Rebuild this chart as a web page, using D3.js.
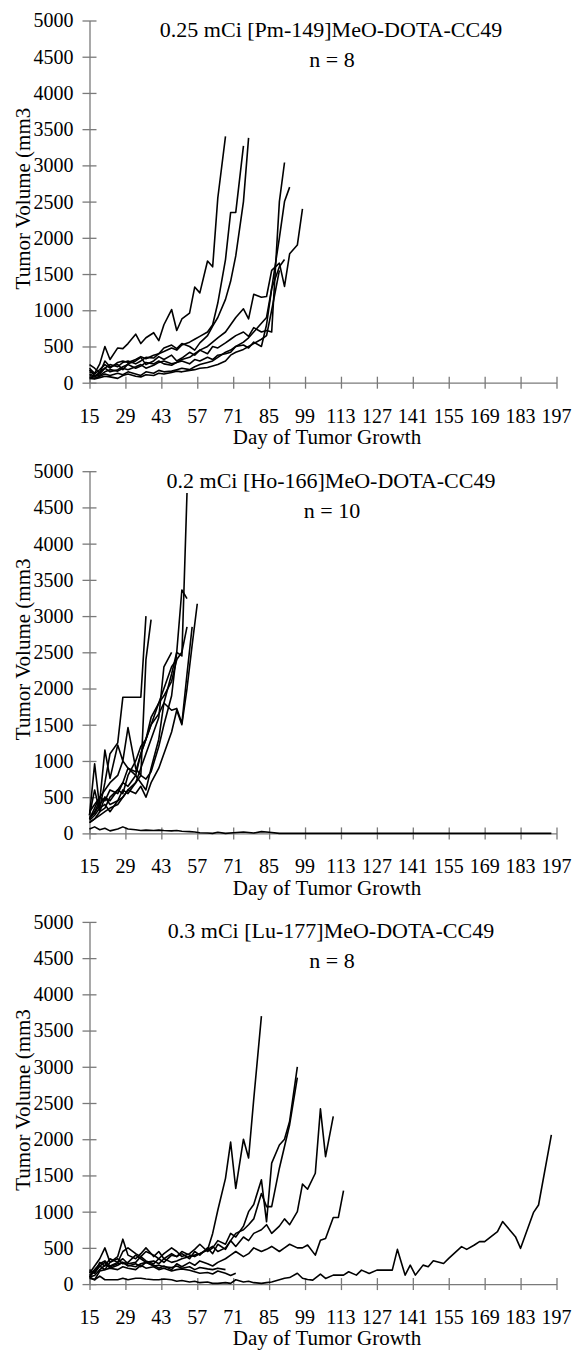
<!DOCTYPE html>
<html>
<head>
<meta charset="utf-8">
<script src="https://cdn.jsdelivr.net/npm/d3@7"></script>
<style>
  body { margin: 0; background: #fff; }
  svg { display: block; }
  text { font-family: "Liberation Serif", "Times New Roman", serif; fill: #000; }
</style>
</head>
<body>
<div id="chart"></div>
<script>
// Axis ticks
const xTicks = [15, 29, 43, 57, 71, 85, 99, 113, 127, 141, 155, 169, 183, 197];
const yTicks = [0, 500, 1000, 1500, 2000, 2500, 3000, 3500, 4000, 4500, 5000];

// Panel 1: Pm-149
const pmDays = [15,17,19,21,23,26,28,30,33,35,37,40,42,44,47,49,51,54,56,58,61,63,65,68,70,72,75,77,79,82,84,86,89,91,93,96,98];
const pmSeries = [
  [200,130,260,500,320,480,470,540,670,540,620,690,580,800,1010,720,880,960,1320,1240,1680,1600,2550,3400],
  [150,120,180,250,200,280,300,280,320,360,330,380,400,430,480,450,520,560,600,640,700,800,1100,1700,2350,2350,3270],
  [100,80,150,200,250,220,280,300,260,300,350,340,400,480,520,470,540,500,450,550,650,780,900,1150,1400,1750,2500,3380],
  [250,200,130,300,220,250,180,260,300,350,250,300,360,320,380,300,340,420,380,450,400,500,480,550,600,650,700,640,760,700,720,700,2500,3040],
  [180,100,120,200,150,180,220,250,200,230,280,260,300,260,240,280,300,260,320,300,350,320,380,400,420,500,560,620,700,820,900,1300,2000,2500,2700],
  [120,90,100,150,180,160,200,180,220,250,200,240,280,300,260,280,320,350,400,450,500,560,620,700,800,900,1020,880,1220,1180,1190,1550,1650,1330,1780,1900,2400],
  [80,60,90,120,100,130,110,150,120,100,150,130,170,150,160,180,200,180,220,250,280,300,350,420,450,500,520,480,560,500,800,1300,1600,1700],
  [60,50,70,90,80,60,100,120,90,80,110,100,130,120,140,160,150,170,180,200,210,230,250,300,380,420,460,500,540,600,650,1000,1550]
];

// Panel 2: Ho-166
const hoDays = [15,17,19,21,23,26,28,30,33,35,37,39,42,44,47,49,51,53,55,57];
const hoSeries = [
  [200,350,500,450,600,550,700,900,800,700,600,900,1300,1800,2200,2500,2450,4700],
  [250,600,300,500,400,450,600,550,700,800,750,850,1200,1500,1900,2500,3360,3240],
  [180,250,350,400,300,450,500,600,550,650,500,700,900,1100,1400,1700,1500,2000,2600,3170],
  [250,960,350,700,1100,1250,1880,1880,1880,1880,3000],
  [200,300,450,1150,760,1220,1000,1460,900,800,2400,2950],
  [150,200,300,350,500,600,700,650,800,1100,1300,1500,1800,2000,2300,2400,2500,2850],
  [300,400,500,600,700,800,1000,900,850,1100,1300,1500,1650,1800,1700,1725,1520,2200,2850],
  [150,200,250,300,350,400,500,600,700,900,1100,1300,1600,2300,2500],
  [220,280,400,500,450,600,550,800,1000,1200,1300,1600,1800,1900,2100,2400]
];
const hoSurvivorDays = [15,17,19,21,23,26,28,30,33,35,37,40,42,44,47,49,51,54,56,58,61,63,65,68,71,75,79,82,85,89,92,96,100,105,110,115,120,125,130,135,140,145,150,155,160,165,170,175,180,185,190,195];
const hoSurvivor = [60,90,50,70,35,60,90,60,50,40,45,40,45,40,35,40,30,25,20,10,5,0,15,0,10,20,5,25,15,0,0,0,0,0,0,0,0,0,0,0,0,0,0,0,0,0,0,0,0,0,0,0];

// Panel 3: Lu-177
const luDays = [15,17,19,21,23,26,28,30,33,35,37,40,42,44,47,49,51,54,56,58,61,63,65,68,70,72,75,77,79,82,84,86,89,91,93,96,98,100,103,105,107,110,112,114];
const luSeries = [
  [150,250,350,500,300,380,620,400,350,420,500,380,450,350,420,380,450,400,380,420,470,700,1020,1460,1960,1320,2000,1740,2550,3700],
  [200,150,300,250,350,300,450,500,420,380,450,400,350,420,500,450,380,420,480,550,450,500,600,550,700,650,800,1000,1100,1440,860,1670,1920,2000,2250,3000],
  [100,180,250,200,300,350,280,300,400,350,300,320,280,350,300,320,350,380,400,420,480,520,450,500,600,700,750,820,900,1250,1070,1070,1600,1900,2200,2850],
  [120,200,280,320,250,300,350,280,300,380,320,280,350,300,400,380,420,350,450,400,500,420,550,480,600,520,650,600,700,750,820,700,800,900,820,1000,1380,1310,1530,2420,1760,2315],
  [180,150,250,300,220,260,300,250,280,240,300,260,220,250,200,280,240,300,260,320,280,250,300,350,400,450,380,420,500,450,480,520,450,500,550,500,500,540,400,605,630,920,920,1290],
  [100,120,200,260,240,280,300,260,240,280,300,250,260,240,230,250,220,240,200,230,210,200,220,200],
  [80,60,180,200,220,200,240,220,200,260,220,240,200,220,180,200,210,190,170,150,160,140,180,150,120,150]
];
const luSurvivorDays = [15,17,19,21,23,26,28,30,33,35,37,40,42,44,47,49,51,54,56,58,61,63,65,68,70,72,75,77,79,82,84,86,89,91,93,96,98,100,102,105,107,110,114,116,119,121,124,127,133,135,138,140,142,145,147,149,153,155,160,162,165,167,169,174,176,181,183,188,190,195];
const luSurvivor = [100,60,110,60,60,60,80,60,80,80,70,60,60,70,60,40,50,30,40,20,30,10,10,20,10,60,30,40,20,10,20,30,60,80,90,150,80,64,55,138,78,124,124,170,124,193,147,193,193,479,124,262,124,262,240,323,285,355,517,479,540,586,586,724,863,655,494,986,1092,2060];

const titles = [
  ["0.25 mCi [Pm-149]MeO-DOTA-CC49", "n = 8"],
  ["0.2 mCi [Ho-166]MeO-DOTA-CC49", "n = 10"],
  ["0.3 mCi [Lu-177]MeO-DOTA-CC49", "n = 8"]
];

// build panel tables
const toPts = (days, vals) => vals.map((v, i) => [days[i], v]);
const panels = [
  pmSeries.map(s => toPts(pmDays, s)),
  hoSeries.map(s => toPts(hoDays, s)).concat([toPts(hoSurvivorDays, hoSurvivor)]),
  luSeries.map(s => toPts(luDays, s)).concat([toPts(luSurvivorDays, luSurvivor)])
];

const W = 575, H = 1353;
const panelStep = 450.7;
const plotLeft = 89.5, plotRight = 556.5;
const plotTop = 20.5, plotBottom = 382.7;

const svg = d3.select("#chart").append("svg")
  .attr("width", W).attr("height", H)
  .attr("viewBox", `0 0 ${W} ${H}`);

svg.append("rect").attr("width", W).attr("height", H).attr("fill", "#fff");

const x = d3.scaleLinear().domain([15, 197]).range([plotLeft, plotRight]);

panels.forEach((lines, p) => {
  const g = svg.append("g").attr("transform", `translate(0,${p * panelStep})`);
  const y = d3.scaleLinear().domain([0, 5000]).range([plotBottom, plotTop]);

  // y axis, ticks cross the line
  const yAxis = g.append("g")
    .attr("transform", `translate(${plotLeft},0)`)
    .call(d3.axisLeft(y).tickValues(yTicks).tickFormat(d3.format("d"))
      .tickSize(7).tickSizeOuter(0).tickPadding(9));
  yAxis.selectAll(".tick line").attr("x1", 7);

  // x axis, labels drawn below separately
  const xAxis = g.append("g")
    .attr("transform", `translate(0,${plotBottom})`)
    .call(d3.axisBottom(x).tickValues(xTicks).tickFormat("").tickSize(6).tickSizeOuter(0));
  xAxis.selectAll(".tick line").attr("y1", -6);

  g.append("g").selectAll("text")
    .data(xTicks)
    .join("text")
    .attr("x", d => x(d))
    .attr("y", plotBottom + 40)
    .attr("text-anchor", "middle")
    .attr("font-size", 20)
    .text(d => d);

  g.selectAll(".domain, .tick line").attr("stroke", "#7a7a7a").attr("stroke-width", 1.3);
  yAxis.selectAll(".tick text").attr("font-size", 20).attr("font-family", "Liberation Serif").attr("fill", "#000");

  // lines
  const line = d3.line().x(d => x(d[0])).y(d => y(d[1]));
  g.append("g").selectAll("path")
    .data(lines)
    .join("path")
    .attr("d", line)
    .attr("fill", "none")
    .attr("stroke", "#000")
    .attr("stroke-width", 1.6)
    .attr("stroke-linejoin", "round");

  // titles
  g.append("text").attr("x", 331).attr("y", 37).attr("text-anchor", "middle")
    .attr("font-size", 22).text(titles[p][0]);
  g.append("text").attr("x", 332).attr("y", 67).attr("text-anchor", "middle")
    .attr("font-size", 22).text(titles[p][1]);

  // axis titles
  g.append("text")
    .attr("transform", `translate(30,${(plotTop + plotBottom) / 2 - 3}) rotate(-90)`)
    .attr("text-anchor", "middle").attr("font-size", 21)
    .text("Tumor Volume (mm3");
  g.append("text").attr("x", 327).attr("y", 444).attr("text-anchor", "middle")
    .attr("font-size", 21).text("Day of Tumor Growth");
});
</script>
</body>
</html>
